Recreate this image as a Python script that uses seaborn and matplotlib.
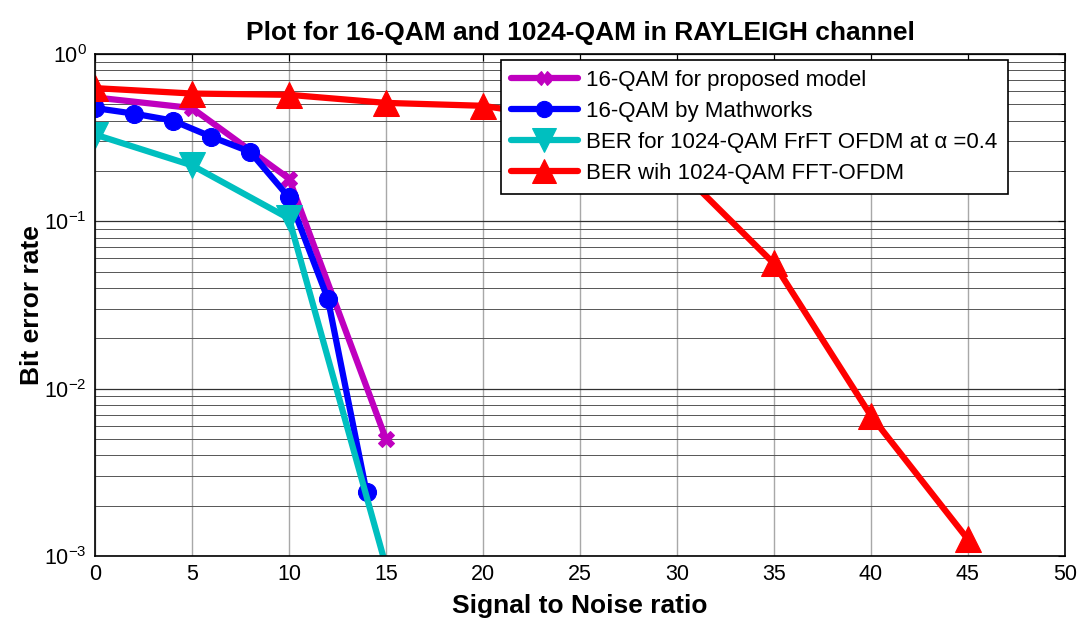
import numpy as np
import pandas as pd
import seaborn as sns
import matplotlib.pyplot as plt
from matplotlib.ticker import LogLocator, FixedLocator, NullFormatter

# values
snr_prop = [0, 5, 10, 15]
ber_prop = [0.55, 0.475, 0.18, 0.005]

snr_mw = [0, 2, 4, 6, 8, 10, 12, 14]
ber_mw = [0.475, 0.44, 0.40, 0.32, 0.26, 0.139, 0.0345, 0.0024]

snr_frft = [0, 5, 10, 15]
ber_frft = [0.33, 0.216, 0.104, 0.00087]

snr_fft = [0, 5, 10, 15, 20, 25, 30, 35, 40, 45]
ber_fft = [0.625, 0.58, 0.57, 0.51, 0.49, 0.40, 0.21, 0.056, 0.0069, 0.00126]

labels = ['16-QAM for proposed model',
          '16-QAM by Mathworks',
          'BER for 1024-QAM FrFT OFDM at \u03b1 =0.4',
          'BER wih 1024-QAM FFT-OFDM']
colors = ['#bf00bf', '#0000ff', '#00bfbf', '#ff0000']
markers = ['X', 'o', 'v', '^']
msizes = [11, 13, 19, 19]

ymin, ymax = 1e-3, 1

sns.set_style('white')
plt.rcParams['font.family'] = ['Liberation Sans', 'DejaVu Sans']
plt.rcParams['mathtext.fontset'] = 'custom'
plt.rcParams['mathtext.rm'] = 'Liberation Sans'
plt.rcParams['mathtext.it'] = 'Liberation Sans:italic'
for k in ['text.color', 'axes.labelcolor', 'xtick.color', 'ytick.color']:
    plt.rcParams[k] = 'black'

fig = plt.figure(figsize=(10.8, 6.2), dpi=100)
ax = fig.add_axes([0.088, 0.103, 0.898, 0.810])

series = [(snr_prop, ber_prop), (snr_mw, ber_mw), (snr_frft, ber_frft), (snr_fft, ber_fft)]
for (x, y), lab, c, m, ms in zip(series, labels, colors, markers, msizes):
    df = pd.DataFrame({'snr': x, 'ber': y})
    # like MATLAB: no marker for points outside the axis limits
    shown = [i for i, v in enumerate(y) if v >= ymin]
    sns.lineplot(data=df, x='snr', y='ber', ax=ax, color=c, marker=m, lw=4.5,
                 markersize=ms, markeredgecolor=c, label=lab, markevery=shown)

ax.set_yscale('log')
ax.set_xlim(0, 50)
ax.set_ylim(ymin, ymax)
ax.set_xticks(np.arange(0, 51, 5))
ax.yaxis.set_major_locator(FixedLocator([1e-3, 1e-2, 1e-1, 1]))
ax.yaxis.set_minor_locator(LogLocator(base=10, subs=np.arange(2, 10), numticks=20))
ax.yaxis.set_minor_formatter(NullFormatter())

ax.grid(which='major', axis='x', color='#a8a8a8', lw=1)
ax.grid(which='major', axis='y', color='#303030', lw=0.9)
ax.grid(which='minor', axis='y', color='#555555', lw=0.7)
ax.set_axisbelow(True)

ax.tick_params(which='both', direction='in', top=True, right=True, labelsize=15.5)
ax.tick_params(which='major', length=5, pad=6)
ax.tick_params(which='minor', length=3)
for s in ax.spines.values():
    s.set_color('black')
    s.set_linewidth(1.2)

ax.set_title('Plot for 16-QAM and 1024-QAM in RAYLEIGH channel',
             fontsize=19, fontweight='bold', pad=10)
ax.set_xlabel('Signal to Noise ratio', fontsize=19, fontweight='bold', labelpad=6)
ax.set_ylabel('Bit error rate', fontsize=19, fontweight='bold', labelpad=0)

leg = ax.legend(loc='upper right', bbox_to_anchor=(0.941, 0.988), fontsize=16,
                frameon=True, fancybox=False, framealpha=1, edgecolor='black',
                handlelength=3.0, handletextpad=0.4, borderpad=0.45,
                labelspacing=0.45, borderaxespad=0, markerscale=0.9)
leg.get_frame().set_linewidth(1.2)

fig.savefig('out.png', dpi=100)
